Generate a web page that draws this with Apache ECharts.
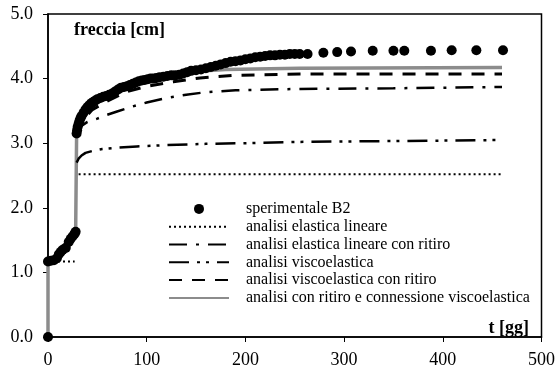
<!DOCTYPE html>
<html>
<head>
<meta charset="utf-8">
<script src="https://cdn.jsdelivr.net/npm/echarts@6/dist/echarts.min.js"></script>
<style>html,body{margin:0;padding:0;background:#fff}#c{width:558px;height:370px}</style>
</head>
<body>
<div id="c"></div>
<script>
// ---- data (days, freccia [cm]) ----
const xTicks = [0, 100, 200, 300, 400, 500];
const yTicks = [0, 1, 2, 3, 4, 5];
const seriesNames = [
  'sperimentale B2',
  'analisi elastica lineare',
  'analisi elastica lineare con ritiro',
  'analisi viscoelastica',
  'analisi viscoelastica con ritiro',
  'analisi con ritiro e connessione viscoelastica'
];
const sperimentaleB2 = [[0,0],[0,1.17],[3,1.18],[6,1.19],[9,1.22],[11,1.28],[13,1.32],[15,1.35],[18,1.38],[21,1.47],[23,1.52],[25,1.56],[27,1.6],[28,1.63],
  [29,3.15],[29.5,3.2],[30,3.25],[31,3.3],[32,3.35],[33,3.39],[34,3.42],[36,3.47],[38,3.52],[40,3.56],[42,3.59],[44,3.62],[46,3.64],[48,3.66],[50,3.68],
  [53,3.70],[56,3.72],[59,3.73],[62,3.75],[65,3.77],[68,3.80],[71,3.83],[74,3.86],[77,3.87],[80,3.88],[83,3.90],[86,3.92],[89,3.94],[92,3.96],[95,3.97],
  [98,3.98],[101,3.99],[104,4.00],[107,4.00],[110,4.01],[113,4.02],[117,4.03],[121,4.04],[125,4.05],[129,4.05],[133,4.06],[137,4.08],[141,4.10],[145,4.12],
  [150,4.13],[155,4.14],[160,4.16],[165,4.18],[170,4.20],[175,4.22],[180,4.24],[185,4.26],[190,4.27],[195,4.28],[200,4.30],[205,4.31],[210,4.33],[215,4.34],
  [220,4.35],[225,4.36],[230,4.36],[235,4.37],[240,4.37],[245,4.38],[250,4.38],[255,4.38],[263,4.38],[279,4.40],[293,4.41],[307,4.42],[329,4.43],[350,4.43],
  [361,4.43],[388,4.43],[409,4.44],[434,4.44],[461,4.44]];
const elasticaLineare = [[0,1.17],[27,1.17],[28,'-'],[31,2.52],[460,2.52]];
const elasticaRitiro = [[29,3.12],[31,3.2],[35,3.28],[40,3.33],[50,3.38],[60,3.44],[70,3.49],[86,3.57],[100,3.63],[120,3.70],[140,3.75],[160,3.79],[190,3.82],[255,3.84],[350,3.85],[460,3.87]];
const viscoelastica = [[29,2.70],[31,2.76],[34,2.81],[38,2.85],[45,2.88],[55,2.91],[70,2.93],[90,2.95],[120,2.97],[160,2.99],[200,3.00],[255,3.02],[320,3.03],[400,3.04],[460,3.05]];
const viscoRitiro = [[29,3.15],[35,3.35],[45,3.52],[60,3.65],[80,3.80],[100,3.88],[127,3.95],[154,4.01],[187,4.05],[255,4.07],[460,4.07]];
const connessione = [[0,0],[0,1.17],[5,1.2],[10,1.27],[15,1.36],[20,1.45],[25,1.55],[28,1.6],[29,3.15],[35,3.45],[45,3.62],[60,3.74],[80,3.87],[100,3.97],[120,4.03],[140,4.08],[160,4.12],[180,4.14],[255,4.16],[460,4.17]];

const FONT = '"Liberation Serif", "Times New Roman", serif';
const chart = echarts.init(document.getElementById('c'), null, {renderer: 'canvas'});
function lineSeries(name, data, color, width, type, z) {
  return {name, type: 'line', data, symbol: 'none', z, connectNulls: false,
    lineStyle: {color, width, type, cap: 'butt'}, itemStyle: {color}, animation: false};
}
chart.setOption({
  animation: false,
  backgroundColor: '#fff',
  textStyle: {fontFamily: FONT, color: '#000'},
  grid: {left: 48, right: 16, top: 14, bottom: 33, show: true, borderColor: '#000', borderWidth: 1.5, backgroundColor: 'transparent'},
  title: [
    {text: 'freccia [cm]', left: 74, top: 21, padding: 0,
     textStyle: {fontFamily: FONT, fontSize: 18, fontWeight: 'bold', color: '#000'}},
    {text: 't [gg]', right: 29, top: 319, padding: 0,
     textStyle: {fontFamily: FONT, fontSize: 18, fontWeight: 'bold', color: '#000'}}
  ],
  legend: {
    orient: 'vertical', left: 168, top: 200, padding: 0, itemGap: 0,
    itemWidth: 60, itemHeight: 10,
    data: seriesNames.map((n, i) => i === 0 ? {name: n} : {name: n, itemStyle: {opacity: 0}}),
    textStyle: {fontFamily: FONT, fontSize: 16, color: '#000', lineHeight: 17.8, padding: [0, 0, 0, 12]}
  },
  xAxis: {
    type: 'value', min: xTicks[0], max: xTicks[xTicks.length - 1], interval: 100,
    axisLine: {show: true, onZero: false, lineStyle: {color: '#000', width: 1.5}},
    axisTick: {show: true, inside: false, length: 5, lineStyle: {color: '#000', width: 1}},
    axisLabel: {fontFamily: FONT, fontSize: 18, color: '#000', margin: 14},
    splitLine: {show: false}
  },
  yAxis: {
    type: 'value', min: yTicks[0], max: yTicks[yTicks.length - 1], interval: 1,
    axisLine: {show: true, onZero: false, lineStyle: {color: '#000', width: 1.5}},
    axisTick: {show: true, inside: false, length: 5, lineStyle: {color: '#000', width: 1}},
    axisLabel: {fontFamily: FONT, fontSize: 18, color: '#000', margin: 15, formatter: v => v.toFixed(1)},
    splitLine: {show: false}
  },
  series: [
    {name: seriesNames[0], type: 'scatter', data: sperimentaleB2, symbol: 'circle', symbolSize: 10, z: 10,
     itemStyle: {color: '#000', opacity: 1}},
    lineSeries(seriesNames[1], elasticaLineare, '#000', 2, [2, 3], 4),
    lineSeries(seriesNames[2], elasticaRitiro, '#000', 2.5, [18, 9, 3, 9], 4),
    lineSeries(seriesNames[3], viscoelastica, '#000', 2.5, [20, 8, 3, 6, 3, 8], 4),
    lineSeries(seriesNames[4], viscoRitiro, '#000', 3, [13, 10], 4),
    lineSeries(seriesNames[5], connessione, '#8c8c8c', 3.5, 'solid', 3)
  ]
});
</script>
</body>
</html>
